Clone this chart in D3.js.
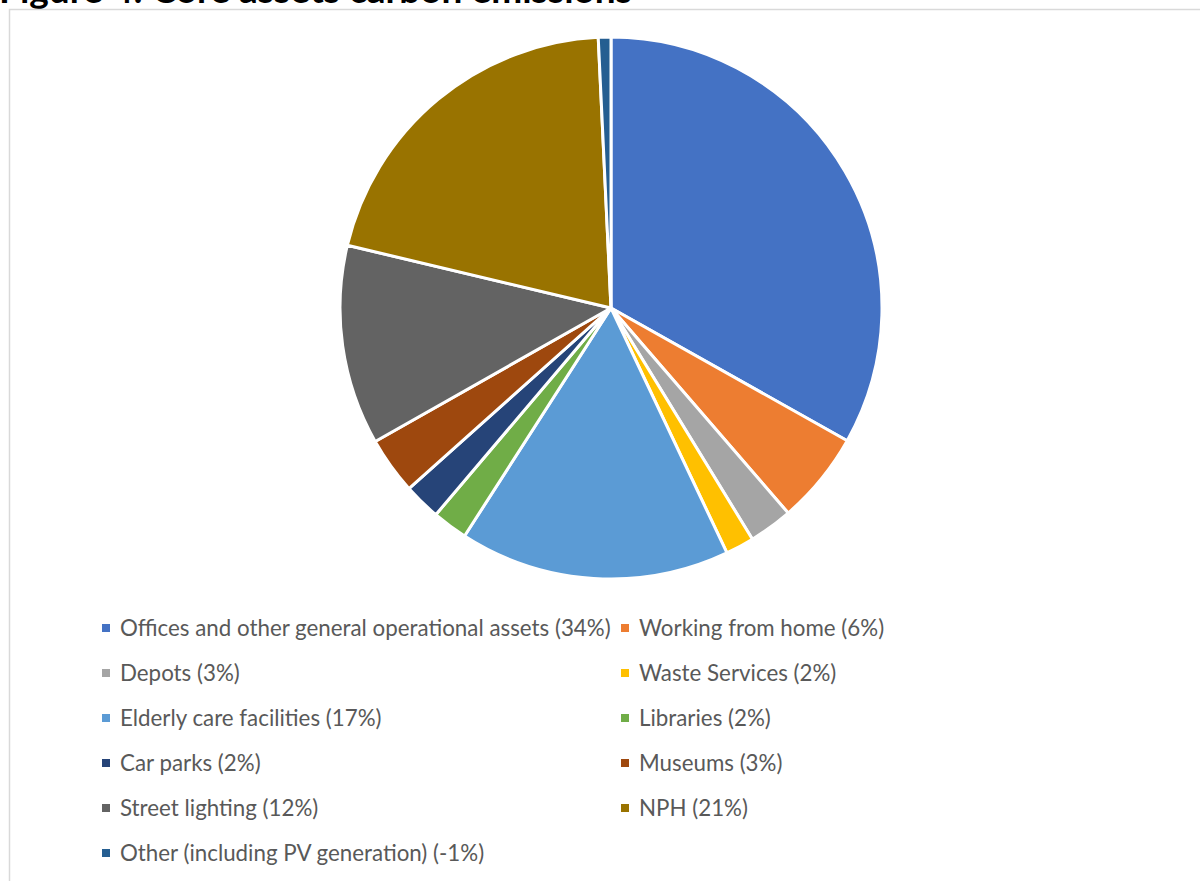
<!DOCTYPE html>
<html lang="en">
  <head>
    <meta charset="UTF-8" />
    <title>Figure 4: Core assets carbon emissions</title>
    <style>
      body {
        margin: 0;
        background: #fff;
        overflow: hidden;
      }
      svg {
        display: block;
      }
    </style>
  </head>
  <body>
    <svg id="chart" width="1200" height="881"></svg>
    <script src="https://d3js.org/d3.v7.min.js"></script>
    <script>
      // slice values (share of the drawn circle, %)
      const categories = [
        "Offices and other general operational assets",
        "Working from home",
        "Depots",
        "Waste Services",
        "Elderly care facilities",
        "Libraries",
        "Car parks",
        "Museums",
        "Street lighting",
        "NPH",
        "Other (including PV generation)",
      ];
      const values = [33.1, 5.5, 2.6, 1.7, 16.1, 2.1, 2.2, 3.4, 11.9, 20.5, -0.75];
      const labelPercents = ["34%", "6%", "3%", "2%", "17%", "2%", "2%", "3%", "12%", "21%", "-1%"];
      const colors = [
        "#4472c4", "#ed7d31", "#a5a5a5", "#ffc000", "#5b9bd5", "#70ad47",
        "#264478", "#9e480e", "#636363", "#997300", "#255e91",
      ];

      const svg = d3.select("#chart");
      const width = 1200;

      // title, mostly cut off above the page edge
      const title = svg
        .append("text")
        .attr("x", -1)
        .attr("y", 3)
        .style("font-family", "Lato, 'Open Sans', sans-serif")
        .style("font-weight", "bold")
        .style("font-size", "30px")
        .style("fill", "#000")
        .text("Figure 4: Core assets carbon emissions");
      const tw = title.node().getComputedTextLength();
      title.style("font-size", (30 * 633) / tw + "px");

      // chart frame
      svg
        .append("rect")
        .attr("x", 9.5)
        .attr("y", 9.5)
        .attr("width", width + 20)
        .attr("height", 900)
        .style("fill", "none")
        .style("stroke", "#d9d9d9")
        .style("stroke-width", 1.5);

      // pie
      const cx = 611,
        cy = 308,
        r = 271;
      const pie = d3
        .pie()
        .sort(null)
        .value((d) => Math.abs(d));
      const arc = d3.arc().innerRadius(0).outerRadius(r);
      const color = d3.scaleOrdinal().domain(categories).range(colors);

      const arcs = pie(values).map((a, i) => ({ ...a, name: categories[i] }));

      svg
        .append("g")
        .attr("transform", `translate(${cx},${cy})`)
        .selectAll("path")
        .data(arcs)
        .join("path")
        .attr("d", arc)
        .style("fill", (d) => color(d.name))
        .style("stroke", "#fff")
        .style("stroke-width", 3)
        .style("stroke-linejoin", "round");

      // legend, two columns
      const colX = [102, 621];
      const row = d3
        .scalePoint()
        .domain(d3.range(6))
        .range([628, 853]);

      const legend = svg.append("g");
      const items = legend
        .selectAll("g")
        .data(categories)
        .join("g")
        .attr("transform", (d, i) => `translate(${colX[i % 2]},${row(Math.floor(i / 2))})`);

      items
        .append("rect")
        .attr("x", 0)
        .attr("y", -4)
        .attr("width", 8)
        .attr("height", 8)
        .style("fill", (d) => color(d));

      const labels = items
        .append("text")
        .attr("x", 18)
        .attr("dy", "0.35em")
        .style("font-family", "Lato, 'Open Sans', sans-serif")
        .style("font-size", "20px")
        .style("fill", "#595959")
        .text((d, i) => `${d} (${labelPercents[i]})`);

      // fit the font so the longest label spans like the original
      const lw = labels.node().getComputedTextLength();
      labels.style("font-size", (20 * 491) / lw + "px");
    </script>
  </body>
</html>
